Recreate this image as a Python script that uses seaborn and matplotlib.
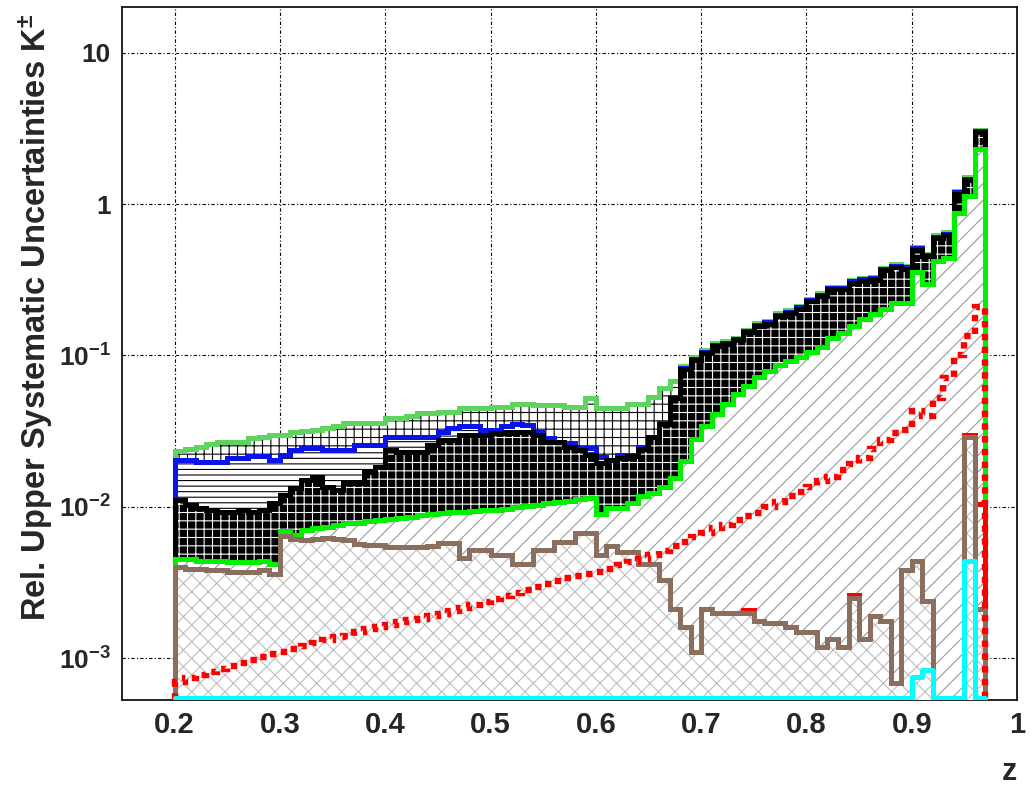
import numpy as np
import pandas as pd
import matplotlib
matplotlib.use("Agg")
import matplotlib.pyplot as plt
import seaborn as sns
from matplotlib.ticker import FixedLocator, FixedFormatter, LogLocator, NullFormatter, MultipleLocator

sns.set_theme(style="white")
plt.rcParams["font.family"] = ["Liberation Sans", "DejaVu Sans"]
plt.rcParams["mathtext.fontset"] = "custom"
plt.rcParams["mathtext.rm"] = "Liberation Sans:bold"
plt.rcParams["mathtext.bf"] = "Liberation Sans:bold"
plt.rcParams["mathtext.default"] = "bf"
plt.rcParams["hatch.linewidth"] = 0.8

# ---- binning (z from 0.20 to 0.97, width 0.01) ----
z_edges = np.round(np.arange(0.20, 0.9751, 0.01), 2)

# ---- data (relative upper systematic uncertainties per bin) ----
unc_lightgreen = [0.0233, 0.0240, 0.0250, 0.0260, 0.0268, 0.0268, 0.0270, 0.0284, 0.0290, 0.0298,
                  0.0300, 0.0313, 0.0315, 0.0320, 0.0330, 0.0340, 0.0357, 0.0357, 0.0357, 0.0360,
                  0.0385, 0.0385, 0.0395, 0.0415, 0.0415, 0.0424, 0.0424, 0.0448, 0.0448, 0.0448,
                  0.0457, 0.0457, 0.0480, 0.0480, 0.0469, 0.0469, 0.0469, 0.0457, 0.0457, 0.0520,
                  0.0450, 0.0450, 0.0450, 0.0476, 0.0476, 0.0530, 0.0610, 0.0680, 0.0850, 0.0970,
                  0.108, 0.120, 0.124, 0.131, 0.148, 0.163, 0.168, 0.190, 0.198, 0.213,
                  0.237, 0.257, 0.284, 0.284, 0.316, 0.325, 0.330, 0.380, 0.400, 0.390,
                  0.520, 0.470, 0.620, 0.650, 1.22, 1.50, 3.10]

unc_blue = [0.0204, 0.0204, 0.0199, 0.0199, 0.0199, 0.0210, 0.0210, 0.0216, 0.0216, 0.0204,
            0.0220, 0.0237, 0.0245, 0.0245, 0.0237, 0.0237, 0.0237, 0.0256, 0.0256, 0.0256,
            0.0290, 0.0290, 0.0290, 0.0290, 0.0290, 0.0310, 0.0330, 0.0340, 0.0340, 0.0320,
            0.0320, 0.0340, 0.0355, 0.0345, 0.0310, 0.0284, 0.0264, 0.0264, 0.0243, 0.0243,
            0.0214, 0.0205, 0.0221, 0.0221, 0.0249, 0.0290, 0.0357, 0.0530, 0.083, 0.095,
            0.106, 0.117, 0.121, 0.128, 0.145, 0.160, 0.165, 0.186, 0.194, 0.209,
            0.232, 0.252, 0.278, 0.278, 0.310, 0.318, 0.323, 0.372, 0.392, 0.382,
            0.510, 0.460, 0.608, 0.637, 1.20, 1.47, 3.04]

unc_black = [0.0111, 0.0103, 0.0098, 0.0096, 0.0093, 0.0093, 0.0096, 0.0093, 0.0096, 0.0106,
             0.0120, 0.0133, 0.0150, 0.0157, 0.0136, 0.0130, 0.0144, 0.0144, 0.0170, 0.0184,
             0.0237, 0.0230, 0.0230, 0.0230, 0.0256, 0.0276, 0.0276, 0.0297, 0.0297, 0.0297,
             0.0307, 0.0307, 0.0312, 0.0312, 0.0297, 0.0269, 0.0269, 0.0249, 0.0237, 0.0220,
             0.0194, 0.0205, 0.0209, 0.0215, 0.0240, 0.0290, 0.0350, 0.0520, 0.0816, 0.0931,
             0.104, 0.115, 0.119, 0.126, 0.142, 0.156, 0.161, 0.182, 0.190, 0.204,
             0.228, 0.247, 0.273, 0.273, 0.303, 0.312, 0.317, 0.365, 0.384, 0.374,
             0.499, 0.451, 0.595, 0.624, 1.17, 1.44, 2.98]

unc_green = [0.0045, 0.0045, 0.0044, 0.0044, 0.0044, 0.0043, 0.0043, 0.0043, 0.0044, 0.0042,
             0.0069, 0.0065, 0.0070, 0.0072, 0.0074, 0.0076, 0.0078, 0.0078, 0.0080, 0.0082,
             0.0083, 0.0085, 0.0086, 0.0088, 0.0090, 0.0091, 0.0092, 0.0093, 0.0094, 0.0095,
             0.0096, 0.0097, 0.0099, 0.0101, 0.0103, 0.0106, 0.0108, 0.0110, 0.0112, 0.0115,
             0.0089, 0.0098, 0.0098, 0.0106, 0.0117, 0.0124, 0.0136, 0.0155, 0.0200, 0.0280,
             0.0340, 0.0410, 0.0480, 0.0560, 0.0630, 0.0720, 0.0790, 0.0870, 0.0920, 0.0980,
             0.106, 0.114, 0.130, 0.140, 0.157, 0.174, 0.188, 0.203, 0.221, 0.222,
             0.353, 0.296, 0.420, 0.443, 0.877, 1.13, 2.30]

unc_brown = [0.0040, 0.0039, 0.0039, 0.0038, 0.0038, 0.0037, 0.0037, 0.0037, 0.0038, 0.0036,
             0.0064, 0.0061, 0.0060, 0.0061, 0.0062, 0.0061, 0.0060, 0.0057, 0.0056, 0.0056,
             0.0054, 0.0054, 0.0054, 0.0054, 0.0055, 0.0058, 0.0058, 0.0046, 0.0052, 0.0052,
             0.0048, 0.0048, 0.0042, 0.0042, 0.0052, 0.0052, 0.0059, 0.0059, 0.0067, 0.0067,
             0.0048, 0.0055, 0.0050, 0.0050, 0.0042, 0.0042, 0.0033, 0.0021, 0.0016, 0.0011,
             0.0021, 0.0020, 0.0020, 0.0020, 0.0020, 0.00176, 0.00172, 0.0017, 0.0016, 0.00148,
             0.00148, 0.00118, 0.00133, 0.00118, 0.0025, 0.00133, 0.0019, 0.00176, 0.00069, 0.0038,
             0.0044, 0.0024, 1e-6, 1e-6, 1e-6, 0.029, 0.0021]

unc_red = [6.92e-4, 7.41e-4, 7.76e-4, 8.13e-4, 8.51e-4, 8.91e-4, 9.33e-4, 9.77e-4, 1.02e-3, 1.07e-3,
           1.10e-3, 1.15e-3, 1.20e-3, 1.26e-3, 1.32e-3, 1.38e-3, 1.41e-3, 1.48e-3, 1.55e-3, 1.62e-3,
           1.66e-3, 1.74e-3, 1.78e-3, 1.82e-3, 1.91e-3, 1.95e-3, 2.04e-3, 2.14e-3, 2.24e-3, 2.34e-3,
           2.45e-3, 2.57e-3, 2.69e-3, 2.82e-3, 2.95e-3, 3.09e-3, 3.24e-3, 3.39e-3, 3.47e-3, 3.60e-3,
           3.70e-3, 3.90e-3, 4.10e-3, 4.30e-3, 4.50e-3, 4.80e-3, 5.10e-3, 5.50e-3, 5.90e-3, 6.30e-3,
           6.70e-3, 7.20e-3, 7.60e-3, 8.13e-3, 8.71e-3, 9.12e-3, 1.00e-2, 1.07e-2, 1.17e-2, 1.26e-2,
           1.35e-2, 1.48e-2, 1.58e-2, 1.74e-2, 1.91e-2, 2.09e-2, 2.40e-2, 2.75e-2, 3.09e-2, 3.24e-2,
           4.27e-2, 3.98e-2, 5.25e-2, 7.08e-2, 1.00e-1, 1.35e-1, 2.09e-1]

unc_cyan = [5.5e-4] * 70 + [7.5e-4, 8.3e-4, 5.5e-4, 5.5e-4, 5.5e-4, 4.4e-3, 5.5e-4]

# small solid-red component visible only in a few bins
red_solid_z = [0.74, 0.84, 0.95, 0.96]
red_solid_val = [0.00207, 0.0026, 0.030, 0.0105]

xtick_vals = [0.2, 0.3, 0.4, 0.5, 0.6, 0.7, 0.8, 0.9, 1.0]
xtick_text = ["0.2", "0.3", "0.4", "0.5", "0.6", "0.7", "0.8", "0.9", "1"]
ytick_vals = [1e-3, 1e-2, 1e-1, 1, 10]
ytick_text = [r"$10^{-3}$", r"$10^{-2}$", r"$10^{-1}$", "1", "10"]

# ---- figure ----
fig = plt.figure(figsize=(10.33, 7.88), dpi=100)
fig.patch.set_facecolor("white")
ax = fig.add_axes([0.1181, 0.1117, 0.8664, 0.8794])
ax.set_facecolor("white")
ax.set_yscale("log")
ax.set_xlim(0.15, 1.0)
ax.set_ylim(5.3e-4, 20)

BASE = 1e-6
LW = 3.6

layers = [
    (unc_lightgreen, "#5fd35f", "white", "black", "++"),
    (unc_blue, "#0a14e6", "white", "black", "---"),
    (unc_black, "black", "black", "white", "++"),
    (unc_green, "#00f000", "white", "#9a9a9a", "//"),
]
z = 2
for vals, lc, fc, hc, hatch in layers:
    ax.stairs(vals, z_edges, baseline=BASE, fill=True, facecolor=fc, edgecolor=hc,
              hatch=hatch, linewidth=0, zorder=z)
    ax.stairs(vals, z_edges, baseline=BASE, fill=False, edgecolor=lc, linewidth=LW, zorder=z + 0.1)
    z += 1

for zz, v in zip(red_solid_z, red_solid_val):
    ax.stairs([v], [zz, round(zz + 0.01, 2)], baseline=BASE, fill=False, edgecolor="red",
              linewidth=LW, zorder=z)
z += 1

ax.stairs(unc_brown, z_edges, baseline=BASE, fill=True, facecolor="white", edgecolor="#bdbdbd",
          hatch="xx", linewidth=0, zorder=z)
ax.stairs(unc_brown, z_edges, baseline=BASE, fill=False, edgecolor="#8b6f5e", linewidth=LW, zorder=z + 0.1)
z += 1

ax.stairs(unc_red, z_edges, baseline=BASE, fill=False, edgecolor="red", linewidth=4.6,
          linestyle=(0, (1, 1.0)), zorder=z)
z += 1

df_cyan = pd.DataFrame({"z": z_edges, "unc": list(unc_cyan) + [unc_cyan[-1]]})
sns.lineplot(data=df_cyan, x="z", y="unc", drawstyle="steps-post", color="#00ffff",
             linewidth=LW, ax=ax, zorder=z, estimator=None)

# ---- axes styling ----
ax.set_axisbelow(True)
ax.grid(True, which="major", color="black", linestyle=(0, (3, 2, 1, 2)), linewidth=0.8)
ax.xaxis.set_major_locator(FixedLocator(xtick_vals))
ax.xaxis.set_major_formatter(FixedFormatter(xtick_text))
ax.xaxis.set_minor_locator(MultipleLocator(0.02))
ax.yaxis.set_major_locator(FixedLocator(ytick_vals))
ax.yaxis.set_major_formatter(FixedFormatter(ytick_text))
ax.yaxis.set_minor_locator(LogLocator(base=10, subs=np.arange(2, 10)))
ax.yaxis.set_minor_formatter(NullFormatter())
ax.tick_params(which="both", direction="in", top=False, right=False, color="black", width=1.0)
ax.tick_params(which="major", length=13)
ax.tick_params(which="minor", length=7)
ax.tick_params(axis="x", which="major", pad=8, labelsize=21)
ax.tick_params(axis="y", which="major", pad=8, labelsize=19)
for lbl in ax.get_xticklabels() + ax.get_yticklabels():
    lbl.set_fontweight("bold")
for sp in ax.spines.values():
    sp.set_color("black")
    sp.set_linewidth(1.2)
ax.set_xlabel("")
ax.set_ylabel("")

fig.text(36 / 1033, 1 - 14 / 788, r"Rel. Upper Systematic Uncertainties K$^{\pm}$",
         rotation=90, ha="center", va="top", fontsize=23.5, fontweight="bold")
fig.text(1009 / 1033, 1 - 772 / 788, "z", ha="center", va="center", fontsize=22, fontweight="bold")

fig.savefig("out.png", dpi=100, facecolor="white")
